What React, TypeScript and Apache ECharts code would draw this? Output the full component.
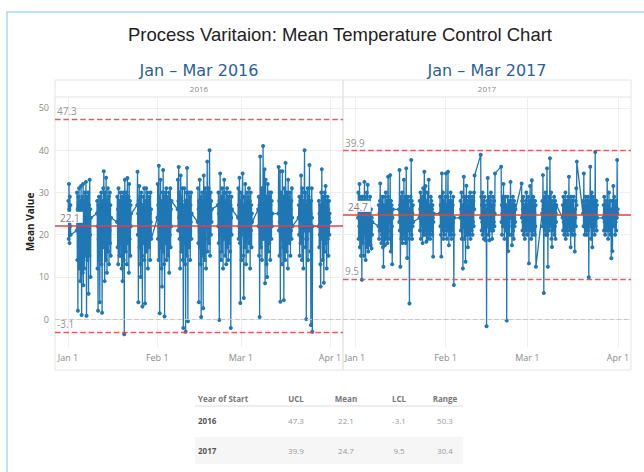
import React, { useEffect, useRef } from "react";
import * as echarts from "echarts";

const DAY = 86400000;
const MONTHS = ["Jan", "Feb", "Mar", "Apr", "May", "Jun", "Jul", "Aug", "Sep", "Oct", "Nov", "Dec"];

// ---- 2016: weekday clusters (start date, number of weekdays, readings) ----
const weekStarts2016 = ["2016-01-01", "2016-01-04", "2016-01-11", "2016-01-18", "2016-01-25", "2016-02-01", "2016-02-08", "2016-02-15", "2016-02-22", "2016-02-29", "2016-03-07", "2016-03-14", "2016-03-21", "2016-03-28"];
const weekDays2016 = [1, 5, 5, 5, 5, 5, 5, 5, 5, 5, 5, 5, 5, 4];
const temps2016: number[][] = [
  [24, 28, 19, 32, 26, 18, 29, 22, 27, 20],
  [21, 30, 14, 26, 2, 23, 29, 18, 31, 12, 27, 22, 9, 28, 16, 31.5, 13, 1, 25, 20, 29, 11, 32, 8, 24, 28, 12, 19, 30, 15, 27, 22, 32.5, 17, 0.8, 26, 29, 14, 24, 18, 30, 6, 23, 27, 15, 33, 20, 26, 10, 24],
  [25, 28, 12, 22, 2, 27, 19, 29, 14, 26, 4, 24, 29, 15, 21, 30, 13, 27, 1.5, 23, 28, 17, 31, 20, 35, 18, 26, 9, 30, 22, 27, 14, 33.5, 17, 25, 11, 28, 20, 31, 16, 24, 29, 13, 26, 21, 30, 18, 27, 15, 24],
  [23, 29, 17, 26, 13, 31, 21, 27, 15, 28, 19, 24, 30, 15, 22, 28, 12, 26, 29, 9, 25, 18, 30, 14, 27, -3.6, 25, 33, 20, 27, 16, 29, 22, 30, 13, 26, 33.4, 18, 26, 21, 29, 11, 32, 24, 19, 28, 15, 27, 22, 25],
  [27, 34.9, 20, 25, 4, 28, 23, 31.5, 17, 26, 13, 29, 10, 24, 30, 21, 27, 15, 3, 27, 22, 29, 18, 25, 31, 14, 28, 3.7, 23, 26, 19, 31, 16, 26, 20, 30, 24, 12, 28, 22, 27, 17, 29, 21, 25, 14, 30, 23, 26, 19],
  [24, 32, 19, 27, 14, 36.3, 22, 29, 1.4, 25, 21, 33, 17, 28, 12, 26, 7.7, 24, 30, 16, 35.3, 20, 26, 13, 29, 0.6, 23, 30, 18, 27, 22, 31, 14, 25, 29, 21, 26, 15, 28, 23, 30, 11, 27, 20, 25, 31, 17, 26, 22, 28],
  [26, 33, 21, 28, 36, 24, 30, 19, 27, 12, 25, 34, 22, 29, 16, 27, 20, 31, 14, 26, -2.1, 23, 27, 18, 31, 24, 13, 28, -3, 26, 20, 30, 15, 35.8, 22, 27, -0.5, 28, 24, 30, 17, 26, 21, 29, 14, 27, 23, 30, 19, 25],
  [23, 31, 18, 26, 4, 28, 22, 33, 17, 25, 13, 29, 0.5, 27, 21, 30, 15, 24, 28, 2.6, 26, 34, 20, 28, 14, 23, 31, 19, 27, 12, 25, 30, 22, 37.3, 25, 16, 29, 22, 31, 18, 27, 40, 26, 15, 24, 30, 20, 28, 23, 26],
  [27, 22, 30, 18, 25, -0.2, 28, 23, 34.5, 20, 26, 14, 29, 16, 24, 31, 21, 27, 12, 25, 30, 19, 33, 23, 28, 15, 26, 22, 30, 13, 27, 20, 31, 17, 25, 29, 14, 26, 22, 28, 18, 30, 24, 16, 27, -2.1, 24, 29, 20, 26],
  [24, 31, 19, 27, 22, 33.5, 18, 26, 3.8, 28, 23, 30, 14, 20, 25, 29, 34.5, 21, 27, 15, 5, 24, 29, 17, 26, 32, 22, 28, 13, 19, 25, 30, 23, 27, 16, 29, 21, 26, 31, 18, 24, 28, 12, 26, 30, 21, 27, 17, 25, 23],
  [26, 22, 29, 15, 27, 0.5, 24, 38.5, 22, 29, 17, 27, 31, 14, 25, 28, 19, 41, 24, 31, 19, 28, 35.5, 23, 8.5, 26, 33, 21, 29, 13, 25, 10, 27, 32, 20, 28, 16, 24, 30, 18, 26, 29, 14, 27, 23, 30, 19, 28, 22, 25],
  [25, 36, 21, 28, 15, 23, 35, 4.1, 27, 22, 30, 19, 26, 13, 35, 24, 29, 17, 27, 4.5, 25, 31, 20, 28, 14, 37, 23, 28, 16, 26, 30, 22, 27, 12, 33, 21, 25, 29, 18, 27, 23, 30, 15, 26, 21, 28, 19, 31, 24, 22],
  [24, 27, 20, 29, 15, 22, 28, 18, 26, 34, 23, 29, 14, 31, 25, 19, 27, 12, 28, 22, 30, 40, 21, 28, 17, 24, 30, 0, 22, 27, 19, 25, 31, 14, 26, 29, 21, 27, 36.5, 23, 28, 16, 25, -1.4, 28, 22, 31, 24, -3, 22],
  [22, 28, 17, 25, 20, 27, 13, 7.7, 24, 30, 21, 35.5, 19, 26, 14, 23, 29, 18, 8.6, 25, 22, 30, 16, 27, 31.5, 18, 26, 24, 12, 28, 23, 29, 19, 26, 15, 24, 28, 20, 25, 23],
];

// ---- 2017 ----
const weekStarts2017 = ["2017-01-02", "2017-01-09", "2017-01-16", "2017-01-23", "2017-01-30", "2017-02-06", "2017-02-13", "2017-02-20", "2017-02-27", "2017-03-06", "2017-03-13", "2017-03-20", "2017-03-27"];
const weekDays2017 = [5, 5, 5, 5, 5, 5, 5, 5, 5, 5, 5, 5, 5];
const temps2017: number[][] = [
  [24, 30, 19, 27, 22, 32, 17, 28, 20, 26, 15, 29, 21, 9.3, 25, 29, 21, 18, 28, 23, 15, 26, 32.5, 20, 24, 29, 14, 22, 27, 19, 30, 17, 25, 31.8, 23, 16, 25, 20, 28, 18, 24, 29, 21, 17.5, 26, 22, 16.7, 24, 20, 23],
  [22, 27, 19, 25, 21, 28, 32.1, 21, 28, 24, 18, 26, 20, 29, 23, 17, 27, 12.4, 23, 29, 20, 25, 17.5, 27, 22, 30, 19, 24, 28, 21, 26, 18, 29, 33.7, 21, 26, 19, 28, 23, 25, 34.1, 23, 16, 28, 20, 27, 22, 13, 24, 26],
  [26, 23, 35.3, 21, 27, 12.4, 25, 29, 19, 27, 23, 30, 18, 26, 22, 28, 20, 33, 24, 19, 27, 22, 29, 18, 26, 35.7, 20, 27, 14.5, 25, 29, 21, 26, 23, 28, 19, 3.7, 23, 26, 21, 29, 24, 37.7, 20, 28, 19, 25, 22, 27, 23],
  [24, 28, 21, 26, 30, 19, 25, 23, 29, 22, 27, 18, 26, 31, 20, 25, 28, 34.9, 20, 27, 24, 31.5, 21, 26, 18.3, 28, 23, 25, 30, 19, 27, 22, 33, 20, 27, 22, 26, 19, 24, 29, 21, 28, 23, 26, 20, 27, 24, 14.8, 23, 25],
  [25, 29, 22, 27, 20, 14.8, 27, 34.5, 21, 26, 24, 30, 19, 27, 23, 28, 20, 26, 22, 29, 25, 34.5, 21, 27, 19, 25, 22, 29, 34.9, 21, 26, 17.5, 28, 23, 25, 20, 27, 30, 22, 26, 19, 28, 24, 21, 27, 23, 29, 20, 8.1, 24],
  [24, 28, 21, 26, 30, 19, 25, 22, 27, 12, 25, 29, 33.7, 22, 27, 19, 29, 24, 13.6, 26, 22, 31.6, 20, 28, 23, 25, 17, 27, 21, 29, 24, 20, 26, 22, 30, 19, 27, 23, 28, 21, 25, 29, 20, 26, 23, 28, 22, 30, 26, 34],
  [38.9, 24, 29, 21, 27, 23, 30, 20, 26, 22, 28, 19, 25, 29, 21, 27, 23, 18.7, 26, 24, -1.7, 25, 28, 22, 33.4, 22, 27, 20, 24, 29, 18.7, 26, 23, 28, 21, 30, 25, 22, 27, 19, 26, 24, 29, 21, 27, 23, 28, 22, 25, 34.5],
  [36.1, 23, 27, 20, 25, 29, 22, 26, 32, 22, 28, 19, 26, 24, 29, 21, 27, 23, 25, -0.3, 27, 21, 29, 23, 16.1, 26, 22, 28, 20, 25, 24, 27, 32.5, 24, 28, 20, 25, 17.5, 27, 23, 29, 21, 26, 19, 28, 24, 22, 27, 23, 26],
  [32.1, 24, 28, 21, 26, 23, 29, 20, 25, 22, 27, 19, 26, 24, 28, 21, 30, 23, 26, 20, 27, 22, 29, 24, 28, 13.2, 23, 27, 21, 31.5, 25, 22, 28, 19, 26, 32.9, 24, 20, 26, 23, 29, 21, 27, 24, 25, 20, 28, 22, 27, 12.4],
  [25, 28, 22, 34.1, 26, 22, 6.2, 26, 29, 21, 27, 24, 30, 20, 26, 23, 28, 35.7, 20, 27, 12.4, 26, 23, 29, 21, 25, 28, 38.1, 22, 27, 24, 30, 19, 26, 17.1, 28, 23, 25, 21, 27, 24, 29, 20, 26, 22, 28, 19, 25, 23, 27],
  [24, 27, 21, 29, 23, 26, 20, 28, 22, 25, 30, 19, 27, 24, 21, 28, 23, 26, 20, 29, 25, 22, 33.7, 24, 21, 28, 23, 26, 17, 29, 22, 25, 27, 20, 28, 24, 26, 21, 29, 23, 25, 20, 16, 26, 24, 28, 22, 31, 27, 37.3],
  [25, 28, 22, 34.5, 22, 27, 20, 26, 23, 29, 21, 25, 27, 20, 28, 24, 22, 29, 21, 26, 9.9, 24, 28, 22, 27, 36.1, 22, 28, 19, 26, 30, 23, 17, 27, 24, 29, 21, 26, 23, 28, 20, 25, 39.6, 22, 26, 24, 28, 21, 27, 24],
  [24, 27, 21, 29, 23, 26, 20, 28, 22, 25, 27, 21, 24, 33, 22, 25, 19, 27, 24, 30, 21, 26, 23, 28, 20, 25, 22, 14.4, 26, 23, 28, 16.1, 25, 22, 31.5, 27, 24, 29, 22, 26, 20, 27, 23, 28, 21, 26, 24, 37.7, 25, 26],
];

// ---- axes & stats ----
const monthTicks2016 = ["2016-01-01", "2016-02-01", "2016-03-01", "2016-04-01"];
const monthTicks2017 = ["2017-01-01", "2017-02-01", "2017-03-01", "2017-04-01"];
const yTicks = [0, 10, 20, 30, 40, 50];
const years = ["2016", "2017"];
const panelTitles = ["Jan – Mar 2016", "Jan – Mar 2017"];
const uclValues = [47.3, 39.9];
const meanValues = [22.1, 24.7];
const lclValues = [-3.1, 9.5];
const rangeValues = [50.3, 30.4];
const tableHeaders = ["Year of Start", "UCL", "Mean", "LCL", "Range"];

const ts = (s: string) => Date.parse(s + "T00:00:00Z");

function buildSeries(starts: string[], days: number[], temps: number[][]) {
  const out: [number, number][] = [];
  starts.forEach((s, w) => {
    const t0 = ts(s);
    const vals = temps[w];
    const span = days[w] * DAY;
    vals.forEach((v, i) => {
      out.push([t0 + ((i + 0.5) / vals.length) * span, v]);
    });
  });
  return out;
}

const fmtDate = (v: number) => {
  const d = new Date(v);
  return `${MONTHS[d.getUTCMonth()]} ${d.getUTCDate()}`;
};

const FONT = "'Open Sans', 'DejaVu Sans', sans-serif";
const BLUE = "#1f77b4";
const RED = "#e0443f";

export default function App() {
  const ref = useRef<HTMLDivElement>(null);
  useEffect(() => {
    if (!ref.current) return;
    const chart = echarts.init(ref.current, undefined, { renderer: "svg" });
    const gridLeft = [55, 343];
    const gridW = 288;
    const gridTop = 97;
    const gridH = 250;
    const data = [
      buildSeries(weekStarts2016, weekDays2016, temps2016),
      buildSeries(weekStarts2017, weekDays2017, temps2017),
    ];
    const monthTicks = [monthTicks2016.map(ts), monthTicks2017.map(ts)];
    const xMin = [ts("2016-01-01") - 4.5 * DAY, ts("2017-01-01") - 4.1 * DAY];
    const xMax = [ts("2016-04-01") + 4.5 * DAY, ts("2017-04-01") + 4.5 * DAY];

    const grids = [0, 1].map((i) => ({ left: gridLeft[i], top: gridTop, width: gridW, height: gridH, containLabel: false }));
    const xAxes = [0, 1].map((i) => ({
      type: "value",
      gridIndex: i,
      min: xMin[i],
      max: xMax[i],
      axisLine: { show: false },
      axisTick: { show: false, customValues: monthTicks[i] },
      axisLabel: {
        customValues: monthTicks[i],
        formatter: (v: number) => fmtDate(v),
        color: "#8a8a8a",
        fontSize: 9,
        fontFamily: FONT,
        margin: 6,
      },
      splitLine: { show: true, lineStyle: { color: "#eeeeee", width: 1 } },
    }));
    const yAxes = [0, 1].map((i) => ({
      type: "value",
      gridIndex: i,
      min: -6.6,
      max: 52.6,
      name: i === 0 ? "Mean Value" : "",
      nameLocation: "middle",
      nameGap: 18,
      nameTextStyle: { fontSize: 10, fontWeight: "bold", color: "#222", fontFamily: FONT },
      axisLine: { show: false },
      axisTick: { show: false, customValues: yTicks },
      axisLabel: { show: i === 0, customValues: yTicks, color: "#8a8a8a", fontSize: 9, fontFamily: FONT, margin: 6 },
      splitLine: { show: true, lineStyle: { color: "#eeeeee", width: 1 } },
    }));

    const mkLabel = (bg?: string) => ({
      show: true,
      position: "insideStartTop",
      formatter: "{c}",
      color: "#808080",
      fontSize: 10,
      fontFamily: FONT,
      distance: [2, 3],
      ...(bg ? { backgroundColor: bg, padding: [1, 3, 0, 3] } : {}),
    });
    const dashStyle = { color: RED, type: "dashed", dashOffset: 0, width: 1.4, opacity: 0.85 };

    const series: any[] = [];
    [0, 1].forEach((i) => {
      series.push({
        type: "line",
        xAxisIndex: i,
        yAxisIndex: i,
        data: data[i],
        symbol: "circle",
        symbolSize: 4,
        showAllSymbol: true,
        itemStyle: { color: BLUE },
        lineStyle: { color: BLUE, width: 1.3 },
        z: 2,
        markLine: {
          silent: true,
          symbol: ["none", "none"],
          lineStyle: { color: "#c8c8c8" },
          data: [{ yAxis: 0, lineStyle: { color: "#c8c8c8", type: "dashed", width: 1.2 }, label: { show: false } }],
        },
      });
      series.push({
        type: "line",
        xAxisIndex: i,
        yAxisIndex: i,
        data: [],
        z: 5,
        itemStyle: { color: RED },
        lineStyle: { color: RED },
        markLine: {
          silent: true,
          symbol: ["none", "none"],
          z: 5,
          lineStyle: { color: RED },
          data: [
            { yAxis: uclValues[i], lineStyle: { ...dashStyle }, label: mkLabel() },
            { yAxis: meanValues[i], lineStyle: { color: RED, type: "solid", width: 1.5 }, label: mkLabel("#ffffff") },
            { yAxis: lclValues[i], lineStyle: { ...dashStyle }, label: mkLabel() },
          ],
        },
      });
    });

    const graphic: any[] = [
      { type: "rect", z: -10, shape: { x: 7, y: 12, width: 700, height: 520 }, style: { fill: "none", stroke: "#a9d8f3", lineWidth: 1.5 } },
      {
        type: "text",
        x: 340,
        y: 34,
        style: {
          text: "Process Varitaion: Mean Temperature Control Chart",
          fontSize: 18.5,
          fontFamily: "'Liberation Sans', Arial, sans-serif",
          fill: "#222",
          align: "center",
          verticalAlign: "middle",
        },
      },
    ];
    [0, 1].forEach((i) => {
      graphic.push({ type: "rect", z: -5, shape: { x: gridLeft[i], y: 80, width: gridW, height: 290 }, style: { fill: "none", stroke: "#e3e3e3", lineWidth: 1 } });
      graphic.push({ type: "line", z: -5, shape: { x1: gridLeft[i], y1: gridTop, x2: gridLeft[i] + gridW, y2: gridTop }, style: { stroke: "#e3e3e3", lineWidth: 1 } });
      graphic.push({
        type: "text",
        x: gridLeft[i] + gridW / 2,
        y: 88,
        style: { text: years[i], fontSize: 8, fontFamily: FONT, fill: "#888", align: "center", verticalAlign: "middle" },
      });
      graphic.push({
        type: "text",
        x: gridLeft[i] + gridW / 2,
        y: 70,
        style: { text: panelTitles[i], fontSize: 16, fontFamily: "'DejaVu Sans', Verdana, sans-serif", fill: "#2b5f9e", align: "center", verticalAlign: "middle" },
      });
    });

    // Summary table
    const colX = [198, 296, 346, 399, 445];
    const rowY = [420, 450];
    graphic.push({ type: "rect", z: -5, shape: { x: 195, y: 437, width: 268, height: 27 }, style: { fill: "#f6f6f6" } });
    graphic.push({ type: "line", shape: { x1: 195, y1: 406, x2: 463, y2: 406 }, style: { stroke: "#dddddd", lineWidth: 1 } });
    tableHeaders.forEach((h, c) => {
      graphic.push({
        type: "text",
        x: colX[c],
        y: 398,
        style: { text: h, fontSize: 8, fontWeight: "bold", fontFamily: FONT, fill: "#777", align: c === 0 ? "left" : "center", verticalAlign: "middle" },
      });
    });
    years.forEach((yr, r) => {
      const cells = [yr, String(uclValues[r]), String(meanValues[r]), String(lclValues[r]), String(rangeValues[r])];
      cells.forEach((t, c) => {
        graphic.push({
          type: "text",
          x: colX[c],
          y: rowY[r],
          style: {
            text: t,
            fontSize: 8,
            fontWeight: c === 0 ? "bold" : "normal",
            fontFamily: FONT,
            fill: c === 0 ? "#555" : "#999",
            align: c === 0 ? "left" : "center",
            verticalAlign: "middle",
          },
        });
      });
    });

    chart.setOption({
      animation: false,
      backgroundColor: "#ffffff",
      grid: grids,
      xAxis: xAxes,
      yAxis: yAxes,
      series,
      graphic,
    });
    return () => chart.dispose();
  }, []);
  return <div ref={ref} style={{ position: "absolute", left: 0, top: 0, width: 644, height: 472 }} />;
}
